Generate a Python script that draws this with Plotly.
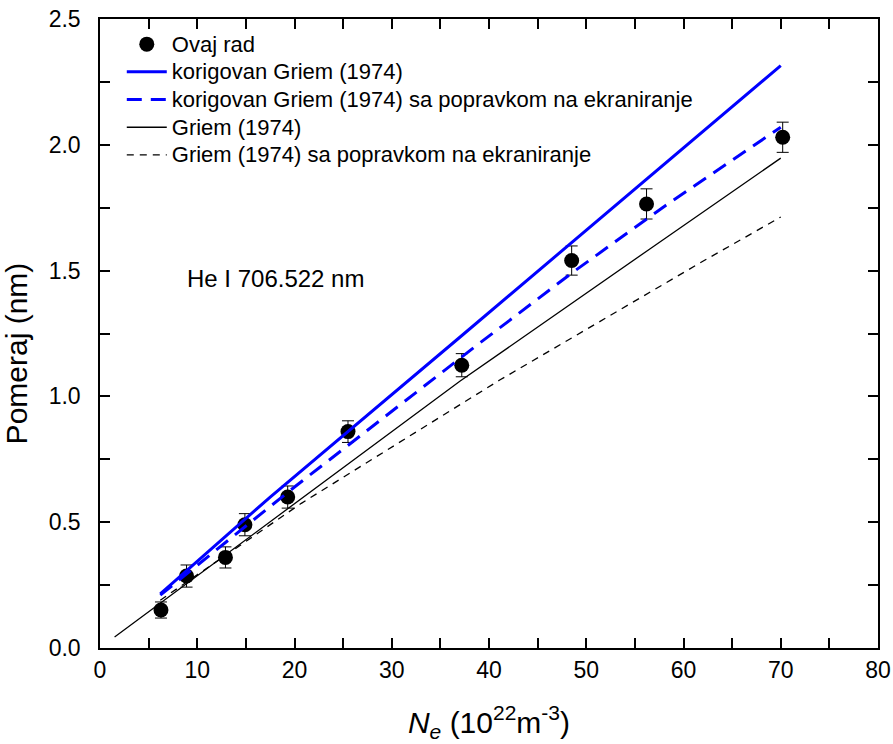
import plotly.graph_objects as go

# Measured data: "Ovaj rad"
ne_exp = [6.27, 8.9, 12.9, 14.9, 19.3, 25.5, 37.2, 48.5, 56.2, 70.2]
shift_exp = [0.151, 0.286, 0.360, 0.490, 0.600, 0.860, 1.124, 1.540, 1.765, 2.030]
err_exp = [0.032, 0.044, 0.042, 0.044, 0.044, 0.043, 0.046, 0.058, 0.060, 0.060]

# korigovan Griem (1974)
ne_kg = [6.2, 17.5, 37.0, 56.5, 70.0]
shift_kg = [0.215, 0.600, 1.235, 1.875, 2.315]

# korigovan Griem (1974) sa popravkom na ekraniranje
ne_kgs = [6.2, 10.0, 15.0, 20.0, 25.0, 30.0, 38.3, 48.5, 58.2, 70.0]
shift_kgs = [0.210, 0.330, 0.485, 0.640, 0.790, 0.940, 1.190, 1.490, 1.760, 2.070]

# Griem (1974)
ne_g = [1.5, 19.3, 37.0, 56.5, 70.0]
shift_g = [0.044, 0.555, 1.060, 1.585, 1.947]

# Griem (1974) sa popravkom na ekraniranje
ne_gs = [6.2, 20.7, 41.1, 61.9, 70.0]
shift_gs = [0.190, 0.575, 1.065, 1.535, 1.713]

names = ["Ovaj rad",
         "korigovan Griem (1974)",
         "korigovan Griem (1974) sa popravkom na ekraniranje",
         "Griem (1974)",
         "Griem (1974) sa popravkom na ekraniranje"]

# Tick positions and labels (labelled major ticks, unlabelled minor ticks)
x_tickvals = [0, 5, 10, 15, 20, 25, 30, 35, 40, 45, 50, 55, 60, 65, 70, 75, 80]
x_ticktext = ["0", "", "10", "", "20", "", "30", "", "40", "", "50", "", "60", "", "70", "", "80"]
y_tickvals = [0, 0.25, 0.5, 0.75, 1.0, 1.25, 1.5, 1.75, 2.0, 2.25, 2.5]
y_ticktext = ["0.0  ", "", "0.5  ", "", "1.0  ", "", "1.5  ", "", "2.0  ", "", "2.5  "]

x_range = [0, 80]
y_range = [0, 2.5]

FONT = "Arial"


def leg(name):
    return "<span style='font-size:22px'>" + name + "</span>"


fig = go.Figure()

fig.add_trace(go.Scatter(
    x=ne_exp, y=shift_exp, mode="markers", name=leg(names[0]),
    marker=dict(symbol="circle", size=15, color="black"),
    error_y=dict(type="data", array=err_exp, visible=True, color="black", thickness=1, width=6)))
fig.add_trace(go.Scatter(
    x=ne_kg, y=shift_kg, mode="lines", name=leg(names[1]),
    line=dict(color="#0000FF", width=3)))
fig.add_trace(go.Scatter(
    x=ne_kgs, y=shift_kgs, mode="lines", name=leg(names[2]),
    line=dict(color="#0000FF", width=3, dash="15px,9px")))
fig.add_trace(go.Scatter(
    x=ne_g, y=shift_g, mode="lines", name=leg(names[3]),
    line=dict(color="black", width=1.3)))
fig.add_trace(go.Scatter(
    x=ne_gs, y=shift_gs, mode="lines", name=leg(names[4]),
    line=dict(color="black", width=1.3, dash="7px,6px")))

fig.update_layout(template="simple_white")

fig.update_xaxes(
    range=x_range, tickmode="array", tickvals=x_tickvals, ticktext=x_ticktext,
    automargin=False,
    showline=True, linecolor="black", linewidth=2, mirror="ticks",
    ticks="inside", ticklen=10, tickwidth=2, tickcolor="black",
    showgrid=False, zeroline=False,
    tickfont=dict(family=FONT, size=23, color="black"),
    title=dict(text="<i>N</i><sub><i>e</i></sub> (10<sup>22</sup>m<sup>-3</sup>)",
               font=dict(family=FONT, size=30, color="black"), standoff=30))
fig.update_yaxes(
    range=y_range, tickmode="array", tickvals=y_tickvals, ticktext=y_ticktext,
    automargin=False,
    showline=True, linecolor="black", linewidth=2, mirror="ticks",
    ticks="inside", ticklen=10, tickwidth=2, tickcolor="black",
    showgrid=False, zeroline=False,
    tickfont=dict(family=FONT, size=23, color="black"))

fig.add_annotation(
    x=-0.107, y=1.17, xref="paper", yref="y", text="Pomeraj (nm)", textangle=-90,
    showarrow=False, xanchor="center", yanchor="middle",
    font=dict(family=FONT, size=30, color="black"))

fig.add_annotation(
    x=8.7, y=1.47, xref="x", yref="y", text="He I 706.522 nm", showarrow=False,
    xanchor="left", yanchor="middle", font=dict(family=FONT, size=24, color="black"))

fig.update_layout(
    width=893, height=744,
    margin=dict(l=100, r=15, t=19, b=96, autoexpand=False),
    showlegend=True,
    legend=dict(x=0.028, y=0.99, xanchor="left", yanchor="top",
                bgcolor="rgba(0,0,0,0)", borderwidth=0,
                font=dict(family=FONT, size=19, color="black"),
                itemwidth=40),
    font=dict(family=FONT, color="black"),
)

fig.write_html("out.html", config={"displayModeBar": False},
               post_script="document.body.style.margin='0';")
